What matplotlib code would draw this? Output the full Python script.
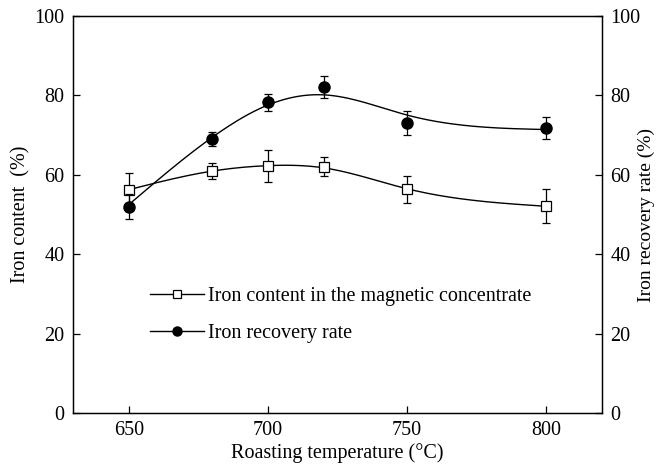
import numpy as np
import matplotlib.pyplot as plt

plt.rcParams["font.family"] = ["Liberation Serif", "DejaVu Serif"]
plt.rcParams["font.size"] = 14.5

temp = [650, 680, 700, 720, 750, 800]

fe_content = [56.2, 61.0, 62.2, 62.0, 56.3, 52.1]
fe_content_err = [4.3, 2.1, 4.0, 2.4, 3.3, 4.2]

fe_recovery = [52.0, 69.0, 78.3, 82.1, 73.0, 71.7]
fe_recovery_err = [3.1, 1.8, 2.1, 2.7, 3.0, 2.8]

yticks = [0, 20, 40, 60, 80, 100]
xticks = [650, 700, 750, 800]


def smooth(x, y, lam):
    # penalised least squares on a 1-degree grid (discrete smoothing spline)
    x = np.asarray(x, float)
    y = np.asarray(y, float)
    grid = np.arange(x[0], x[-1] + 0.5, 1.0)
    n = len(grid)
    A = np.zeros((len(x), n))
    for i, xi in enumerate(x):
        A[i, int(round(xi - x[0]))] = 1.0
    D = np.diff(np.eye(n), 2, axis=0)
    f = np.linalg.solve(A.T @ A + lam * D.T @ D, A.T @ y)
    return grid, f


fig = plt.figure(figsize=(6.58, 4.74), dpi=100)
ax = fig.add_axes([0.111, 0.1287, 0.804, 0.8375])

gx, gy = smooth(temp, fe_content, 300)
ax.plot(gx, gy, color="black", lw=1.0)
ax.errorbar(temp, fe_content, yerr=fe_content_err, fmt="none", ecolor="black",
            elinewidth=0.9, capsize=3, capthick=0.9)
ax.plot(temp, fe_content, "s", ms=7, mfc="white", mec="black", mew=0.9)

gx, gy = smooth(temp, fe_recovery, 2200)
ax.plot(gx, gy, color="black", lw=1.0)
ax.errorbar(temp, fe_recovery, yerr=fe_recovery_err, fmt="none", ecolor="black",
            elinewidth=0.9, capsize=3, capthick=0.9)
ax.plot(temp, fe_recovery, "o", ms=8, mfc="black", mec="black")

# legend handles: line with marker in the middle
h1, = ax.plot([], [], "-s", color="black", lw=1.0, ms=6, mfc="white", mew=0.9)
h2, = ax.plot([], [], "-o", color="black", lw=1.0, ms=6.5)
ax.legend([h1, h2], ["Iron content in the magnetic concentrate", "Iron recovery rate"],
          loc="upper left", bbox_to_anchor=(0.13, 0.337), frameon=False,
          handlelength=2.7, handletextpad=0.2, labelspacing=0.85, borderaxespad=0)

ax.set_xlim(630, 820)
ax.set_ylim(0, 100)
ax.set_xticks(xticks)
ax.set_yticks(yticks)
ax.tick_params(direction="in", length=5, width=0.9, pad=6)
for s in ax.spines.values():
    s.set_linewidth(1.0)

ax.set_xlabel("Roasting temperature (°C)", labelpad=2)
ax.set_ylabel("Iron content  (%)", labelpad=3)

ax2 = ax.twinx()
ax2.set_ylim(0, 100)
ax2.set_yticks(yticks)
ax2.tick_params(direction="in", length=5, width=0.9, pad=6)
ax2.set_ylabel("Iron recovery rate (%)", fontsize=14)
ax2.yaxis.set_label_coords(1.068, 0.5)

fig.savefig("out.png", dpi=100)
